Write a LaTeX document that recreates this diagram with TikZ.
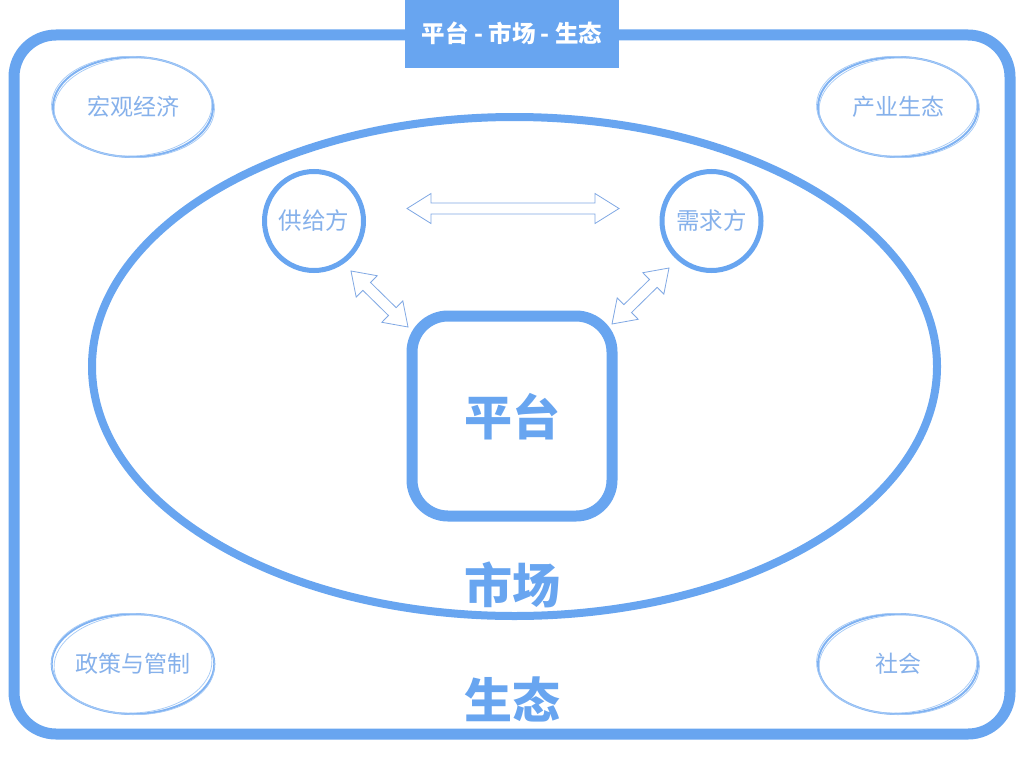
\documentclass[tikz,border=0pt]{standalone}
\usepackage{fontspec}
\setmainfont{Noto Sans CJK SC}
\usetikzlibrary{shapes.geometric,calc}
\definecolor{mainblue}{HTML}{68A5F0}
\definecolor{textblue}{HTML}{86B1EB}
\definecolor{arrowblue}{HTML}{80A8E4}
\newcommand{\dblarrow}[3]{%
  \path ($(#1)!#3!(#2)$) coordinate (ha) ($(#2)!#3!(#1)$) coordinate (hb);
  \draw[outlinearrow] (#1) -- ($(ha)!15pt!90:(#2)$) -- ($(ha)!5.5pt!90:(#2)$)
    -- ($(hb)!5.5pt!-90:(#1)$) -- ($(hb)!15pt!-90:(#1)$) -- (#2)
    -- ($(hb)!15pt!90:(#1)$) -- ($(hb)!5.5pt!90:(#1)$)
    -- ($(ha)!5.5pt!-90:(#2)$) -- ($(ha)!15pt!-90:(#2)$) -- cycle;}
\begin{document}
\begin{tikzpicture}[x=1pt,y=-1pt,
  outlinearrow/.style={draw=arrowblue, line width=0.8pt, fill=white, line join=miter},
  corner/.style={ellipse, draw=mainblue!85, line width=2pt, minimum width=160pt, minimum height=100pt, inner sep=0pt, text=textblue, font=\fontsize{23}{27}\selectfont},
  sketch/.style={draw=mainblue!60, line width=0.7pt},
  party/.style={circle, draw=mainblue, line width=5pt, minimum size=99pt, inner sep=0pt, text=textblue, font=\fontsize{23.5}{27}\selectfont},
  bigtext/.style={text=mainblue, font=\fontsize{48}{56}\selectfont\bfseries, inner sep=0pt}
]
\useasboundingbox (0,0) rectangle (1024,768);
\fill[white] (0,0) rectangle (1024,768);
% outer ecosystem frame
\node[draw=mainblue, line width=11pt, rounded corners=42pt, minimum width=996pt, minimum height=699pt, inner sep=0pt] (eco) at (512,384.5) {};
% title tab
\node[fill=mainblue, minimum width=214pt, minimum height=68pt, inner sep=0pt, text=white, font=\fontsize{23.5}{27}\selectfont\bfseries] (title) at (512,33.5) {平台 - 市场 - 生态};
% market ellipse
\node[ellipse, draw=mainblue, line width=8pt, minimum width=845pt, minimum height=499pt, inner sep=0pt] (market) at (514.5,366.5) {};
% platform
\node[draw=mainblue, line width=11pt, rounded corners=36pt, minimum width=200pt, minimum height=200pt, inner sep=0pt] (platform) at (512,416) {};
\node[bigtext] (ptext) at (512,417) {平台};
\node[bigtext] (mtext) at (512,585) {市场};
\node[bigtext] (etext) at (512,699) {生态};
% supply / demand
\node[party] (supply) at (314,221) {供给方};
\node[party] (demand) at (711.5,221) {需求方};
% arrows
\coordinate (h1) at (407,208.5);
\coordinate (h2) at (619,208.5);
\coordinate (l1) at (351,271);
\coordinate (l2) at (408,327);
\coordinate (r1) at (669,268);
\coordinate (r2) at (612,324);
\dblarrow{h1}{h2}{24pt}
\dblarrow{l1}{l2}{22pt}
\dblarrow{r1}{r2}{22pt}
% corner ellipses
\node[corner] (macro) at (133,107) {宏观经济};
\node[corner] (industry) at (898,107) {产业生态};
\node[corner] (policy) at (133,664) {政策与管制};
\node[corner] (society) at (898,664) {社会};
\foreach \n in {macro,industry,policy,society}{
  \draw[sketch, rotate around={3:(\n.center)}] (\n.center) ellipse (79 and 49);
  \draw[sketch, rotate around={-2:(\n.center)}] (\n.center) ellipse (81.5 and 50.5);
}
\end{tikzpicture}
\end{document}
